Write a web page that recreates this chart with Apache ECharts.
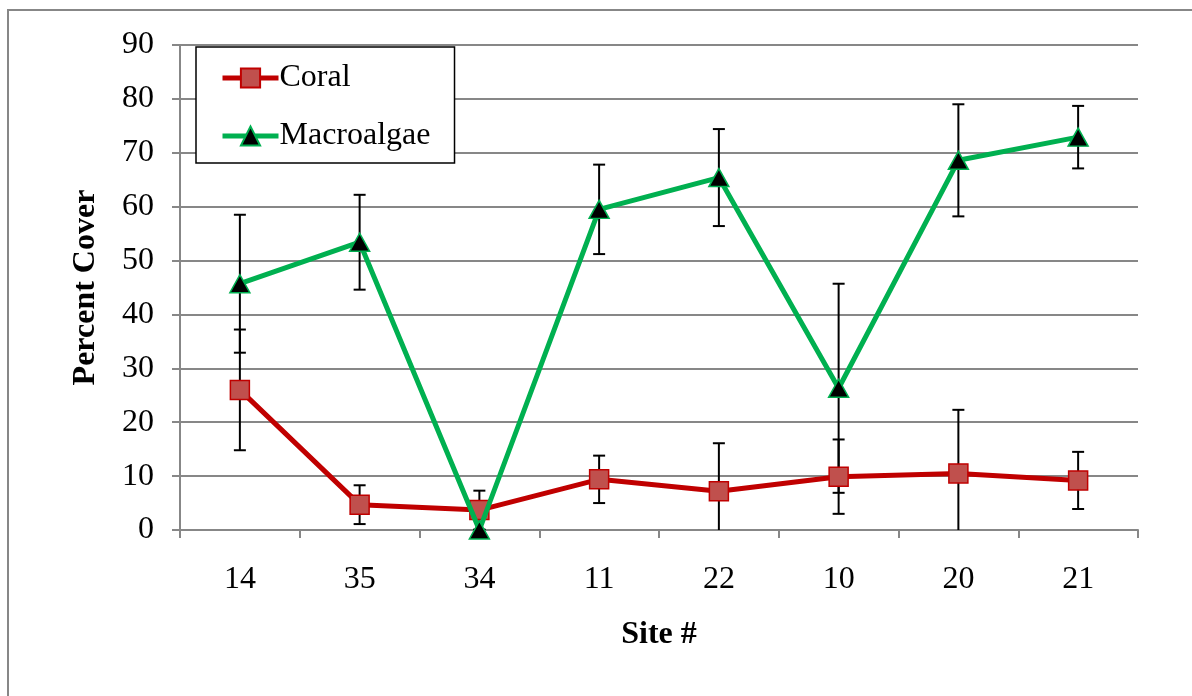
<!DOCTYPE html>
<html>
<head>
<meta charset="utf-8">
<script src="https://cdn.jsdelivr.net/npm/echarts@6/dist/echarts.min.js"></script>
<style>
  html, body { margin: 0; padding: 0; background: #fff; }
  #chart { width: 1192px; height: 696px; }
</style>
</head>
<body>
<div id="chart"></div>
<script>
// Sites along the x axis
const sites = ['14', '35', '34', '11', '22', '10', '20', '21'];

// Mean percent cover per site
const coral = [26.0, 4.7, 3.7, 9.4, 7.2, 9.9, 10.5, 9.2];
const macroalgae = [45.7, 53.4, 0.0, 59.5, 65.4, 26.3, 68.6, 72.9];

// Error (± half-length of each error bar)
const coralErr = [11.2, 3.6, 3.6, 4.4, 8.9, 6.9, 11.8, 5.3];
const macroErr = [12.8, 8.8, 0.0, 8.3, 9.0, 19.4, 10.4, 5.8];

// Y axis ticks
const yMin = 0, yMax = 90, yStep = 10;

const serif = '"Liberation Serif", "Times New Roman", serif';
const gridGray = '#878787';

function errorSeries(name, means, errs) {
  return {
    type: 'custom',
    name: name + ' error',
    z: 1,
    clip: true,
    silent: true,
    data: means.map((m, i) => [i, m - errs[i], m + errs[i]]),
    renderItem: function (params, api) {
      const i = api.value(0);
      const lo = api.coord([i, api.value(1)]);
      const hi = api.coord([i, api.value(2)]);
      const cap = 6;
      const style = { stroke: '#000', lineWidth: 2, fill: 'none' };
      return {
        type: 'group',
        children: [
          { type: 'line', shape: { x1: lo[0], y1: lo[1], x2: hi[0], y2: hi[1] }, style },
          { type: 'line', shape: { x1: hi[0] - cap, y1: hi[1], x2: hi[0] + cap, y2: hi[1] }, style },
          { type: 'line', shape: { x1: lo[0] - cap, y1: lo[1], x2: lo[0] + cap, y2: lo[1] }, style }
        ]
      };
    }
  };
}

const chart = echarts.init(document.getElementById('chart'), null, { renderer: 'canvas' });

chart.setOption({
  backgroundColor: '#fff',
  animation: false,
  textStyle: { fontFamily: serif, color: '#000' },
  graphic: [{
    type: 'rect',
    shape: { x: 8, y: 10, width: 1300, height: 800 },
    style: { fill: 'none', stroke: gridGray, lineWidth: 2 },
    z: 0
  }],
  grid: { left: 180, top: 45, width: 958, height: 485 },
  legend: {
    orient: 'vertical',
    left: 196,
    top: 47,
    padding: [15, 24, 11, 24],
    itemGap: 26,
    itemWidth: 56,
    itemHeight: 24,
    backgroundColor: '#fff',
    borderColor: '#000',
    borderWidth: 1.5,
    borderRadius: 0,
    data: ['Coral', 'Macroalgae'],
    lineStyle: { width: 5 },
    textStyle: { fontFamily: serif, fontSize: 32, color: '#000', padding: [0, 0, 0, -4] }
  },
  xAxis: {
    type: 'category',
    data: sites,
    boundaryGap: true,
    name: 'Site #',
    nameLocation: 'middle',
    nameGap: 89,
    nameTextStyle: { fontFamily: serif, fontSize: 32, fontWeight: 'bold', color: '#000' },
    axisLine: { lineStyle: { color: gridGray, width: 2 } },
    axisTick: { show: true, length: 8, alignWithLabel: false, lineStyle: { color: gridGray, width: 2 } },
    axisLabel: { fontFamily: serif, fontSize: 32, color: '#000', margin: 34 },
    splitLine: { show: false }
  },
  yAxis: {
    type: 'value',
    min: yMin,
    max: yMax,
    interval: yStep,
    name: 'Percent Cover',
    nameLocation: 'middle',
    nameGap: 78,
    nameTextStyle: { fontFamily: serif, fontSize: 32, fontWeight: 'bold', color: '#000' },
    axisLine: { show: true, lineStyle: { color: gridGray, width: 2 } },
    axisTick: { show: true, length: 8, lineStyle: { color: gridGray, width: 2 } },
    axisLabel: { fontFamily: serif, fontSize: 32, color: '#000', margin: 26, padding: [6, 0, 0, 0] },
    splitLine: { show: true, lineStyle: { color: gridGray, width: 2 } }
  },
  series: [
    errorSeries('Coral', coral, coralErr),
    errorSeries('Macroalgae', macroalgae, macroErr),
    {
      name: 'Coral',
      type: 'line',
      z: 3,
      data: coral,
      symbol: 'rect',
      symbolSize: 19,
      lineStyle: { color: '#C00000', width: 5 },
      itemStyle: { color: '#C0504D', borderColor: '#C00000', borderWidth: 1.5 }
    },
    {
      name: 'Macroalgae',
      type: 'line',
      z: 4,
      data: macroalgae,
      symbol: 'triangle',
      symbolSize: [20, 18],
      lineStyle: { color: '#00B050', width: 5 },
      itemStyle: { color: '#000', borderColor: '#00B050', borderWidth: 1.5 }
    }
  ]
});
</script>
</body>
</html>
